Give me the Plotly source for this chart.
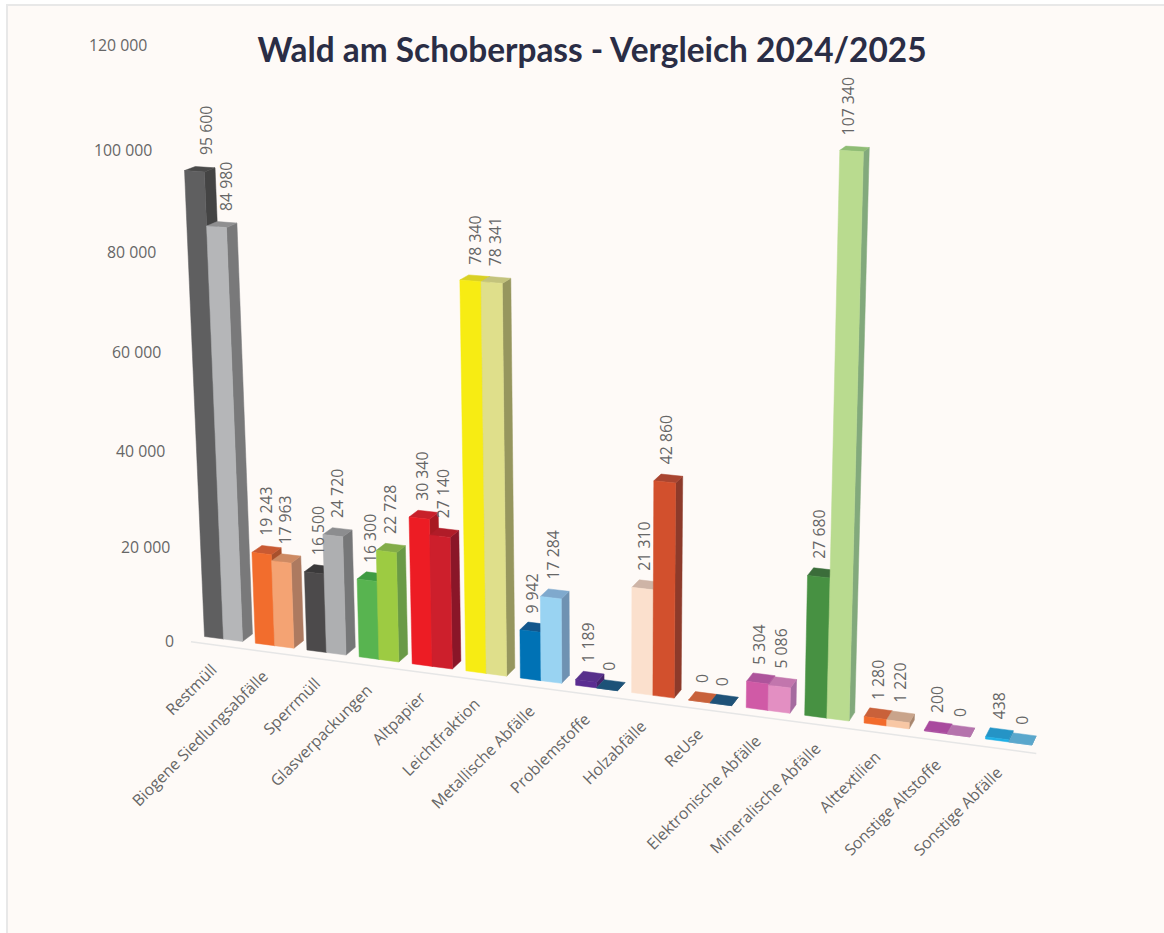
import plotly.graph_objects as go

TITLE = "Wald am Schoberpass - Vergleich 2024/2025"
categories = ["Restmüll", "Biogene Siedlungsabfälle", "Sperrmüll", "Glasverpackungen", "Altpapier",
              "Leichtfraktion", "Metallische Abfälle", "Problemstoffe", "Holzabfälle", "ReUse",
              "Elektronische Abfälle", "Mineralische Abfälle", "Alttextilien", "Sonstige Altstoffe",
              "Sonstige Abfälle"]
values_2024 = [95600, 19243, 16500, 16300, 30340, 78340, 9942, 1189, 21310, 0, 5304, 27680, 1280, 200, 438]
values_2025 = [84980, 17963, 24720, 22728, 27140, 78341, 17284, 0, 42860, 0, 5086, 107340, 1220, 0, 0]
value_ticks = [0, 20000, 40000, 60000, 80000, 100000, 120000]

# front, top, side colours of every column
colors_2024 = [("#5f5f60", "#4a4a4a", "#444444"), ("#f26d2d", "#c95a32", "#a8502c"), ("#4c4a4b", "#3a393a", "#333333"),
               ("#58b450", "#3f9b42", "#3d8a3c"), ("#ed1c24", "#c8202a", "#a81a22"), ("#f7ec13", "#d9d023", "#b5ad1c"),
               ("#0072b5", "#13568b", "#105080"), ("#5a2d91", "#57308b", "#45246d"), ("#fbe0cd", "#ceb4a6", "#b8a090"),
               ("#c8613a", "#c8613a", "#a04e30"), ("#d05aa6", "#ad549b", "#964a88"), ("#479142", "#3b6d3a", "#345f33"),
               ("#f26b2c", "#c9613a", "#a8502c"), ("#a94a9e", "#a94a9e", "#8a3d82"), ("#1fb0e6", "#2594c6", "#1d7ba5")]
colors_2025 = [("#b5b6b8", "#8f8f90", "#79797a"), ("#f4a373", "#cd8a63", "#ad7a60"), ("#aeafb1", "#8c8d8f", "#767778"),
               ("#9dcb42", "#83ac48", "#6a9a46"), ("#cd1f2c", "#b01c28", "#8a1628"), ("#dfdf8b", "#c3c37c", "#96965e"),
               ("#99d3f2", "#7fa9cd", "#6f92b2"), ("#1c5278", "#1c5278", "#17425f"), ("#d2502d", "#a94530", "#8d3a2a"),
               ("#1f5278", "#1f5278", "#17425f"), ("#e38fc2", "#c276ad", "#a56b9f"), ("#b9db8f", "#8fbc75", "#82a97c"),
               ("#f8c7a4", "#c9a48b", "#a8866e"), ("#b573ac", "#b573ac", "#946090"), ("#5aa7cc", "#5aa7cc", "#4a8aa8")]

BAR_W = 0.375


def project(u, v, d=0.0):
    """Projective camera: u = category position, v = value, d = depth."""
    w = 1 - 0.00676 * u - 4.9e-7 * v + 0.0077 * d
    x = 223.5 + 49.26 * u - 3.0e-4 * v + 11.8 * d
    y = 639 + 2.34 * u - 0.00497 * v - 2.6 * d
    return x / w, y / w


def face(points, color):
    pts = [project(*p) for p in points]
    xs = [p[0] for p in pts] + [pts[0][0]]
    ys = [p[1] for p in pts] + [pts[0][1]]
    return go.Scatter(x=xs, y=ys, mode="lines", fill="toself", fillcolor=color,
                      line=dict(color=color, width=0.5), hoverinfo="skip", showlegend=False)


fig = go.Figure()

# axis line
ax0 = project(-0.48, 0, -0.8)
ax1 = project(14.5, 0, -0.8)
fig.add_trace(go.Scatter(x=[ax0[0], ax1[0]], y=[ax0[1], ax1[1]], mode="lines",
                         line=dict(color="#e6e6e6", width=1.5), hoverinfo="skip", showlegend=False))

annotations = []
TXT = dict(family="'Open Sans', Lato, sans-serif", size=15.8, color="#666666")


def fmt(n):
    return f"{n:,}".replace(",", " ")


for i, cat in enumerate(categories):
    for s, (vals, cols) in enumerate(((values_2024, colors_2024), (values_2025, colors_2025))):
        v = vals[i]
        u0 = i + (s - 1) * BAR_W
        u1 = u0 + BAR_W
        front, top, side = cols[i]
        fig.add_trace(face([(u1, 0, 0), (u1, 0, 1), (u1, v, 1), (u1, v, 0)], side))
        fig.add_trace(face([(u0, v, 0), (u1, v, 0), (u1, v, 1), (u0, v, 1)], top))
        fig.add_trace(face([(u0, 0, 0), (u1, 0, 0), (u1, v, 0), (u0, v, 0)], front))
        um = (u0 + u1) / 2
        xb = project(um, 0)[0]
        xt = project(um, v)[0]
        yt = project(um, v, 0.5)[1]
        annotations.append(dict(x=xb + 0.55 * (xt - xb) + 2, y=yt - 12, text=fmt(v), textangle=-90,
                                xref="x", yref="y", xanchor="center", yanchor="bottom", showarrow=False,
                                font=TXT))
    bx, by = project(i, 0)
    annotations.append(dict(x=bx + 1, y=by + 17, text=cat, textangle=-45, xref="x", yref="y",
                            xanchor="right", yanchor="top", showarrow=False, font=TXT))

for t in value_ticks:
    tx, ty = project(-1, t)
    annotations.append(dict(x=tx + 3, y=ty + 9 - 6 * t / max(value_ticks), text=fmt(t), xref="x", yref="y",
                            xanchor="right", yanchor="middle", showarrow=False, font=TXT))

fig.update_layout(
    width=1164, height=933, margin=dict(l=0, r=0, t=0, b=0),
    paper_bgcolor="white", plot_bgcolor="white", showlegend=False,
    title=dict(text=f"<b>{TITLE}</b>", x=592 / 1164, xanchor="center", y=1 - 50 / 933, yanchor="middle",
               font=dict(family="Lato, 'Open Sans', sans-serif", size=33.4, color="#2a2d45")),
    xaxis=dict(visible=False, range=[0, 1164], fixedrange=True),
    yaxis=dict(visible=False, range=[933, 0], fixedrange=True),
    annotations=annotations,
    shapes=[dict(type="rect", layer="below", xref="x", yref="y", x0=7, y0=5, x1=1180, y1=950,
                 fillcolor="#fefaf7", line=dict(color="#e8e8e8", width=2))],
)
fig.write_html("out.html", config=dict(displayModeBar=False),
               post_script="document.body.style.margin='0';document.body.style.overflow='hidden';")
